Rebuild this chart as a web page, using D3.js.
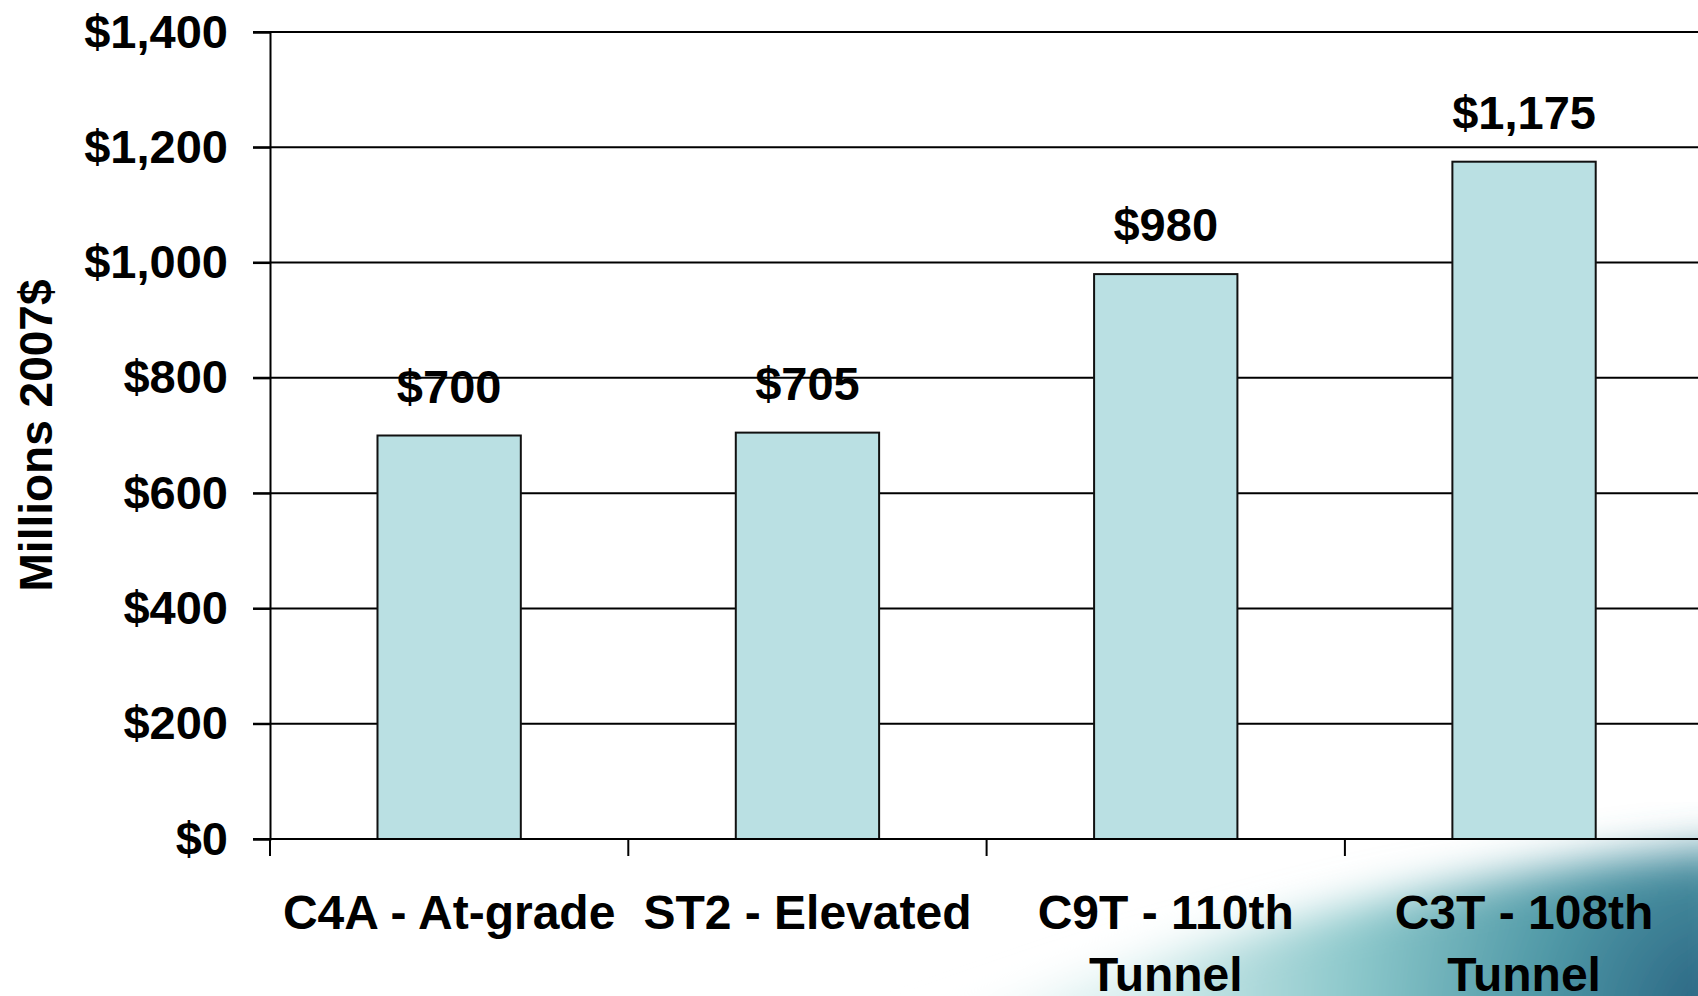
<!DOCTYPE html>
<html>
<head>
<meta charset="utf-8">
<script src="https://cdn.jsdelivr.net/npm/d3@7"></script>
<style>
  body { margin: 0; background: #fff; }
  svg text { font-family: "Liberation Sans", Arial, sans-serif; font-weight: bold; fill: #000; }
</style>
</head>
<body>
<div id="chart"></div>
<script>
// chart data
const categories = ["C4A - At-grade", "ST2 - Elevated", "C9T - 110th Tunnel", "C3T - 108th Tunnel"];
const costs = [700, 705, 980, 1175];
const valueLabels = ["$700", "$705", "$980", "$1,175"];
const yTicks = [0, 200, 400, 600, 800, 1000, 1200, 1400];
const yTickLabels = ["$0", "$200", "$400", "$600", "$800", "$1,000", "$1,200", "$1,400"];
const yTitle = "Millions 2007$";

const data = categories.map((c, i) => ({name: c, value: costs[i], label: valueLabels[i]}));

const W = 1698, H = 996;
const margin = {top: 32, left: 270, bottom: 157};
const step = 358.3;

const svg = d3.select('#chart').append('svg')
    .attr('width', W)
    .attr('height', H);

// decorative teal swoosh in bottom-right corner
const defs = svg.append('defs');
const grad = defs.append('radialGradient')
    .attr('id', 'swoosh')
    .attr('gradientUnits', 'userSpaceOnUse')
    .attr('cx', 1720).attr('cy', 1010)
    .attr('r', 820);
grad.append('stop').attr('offset', 0).attr('stop-color', '#26607f');
grad.append('stop').attr('offset', 0.22).attr('stop-color', '#4f98a6');
grad.append('stop').attr('offset', 0.45).attr('stop-color', '#8cc8cb');
grad.append('stop').attr('offset', 0.7).attr('stop-color', '#d3ecec');
grad.append('stop').attr('offset', 1).attr('stop-color', '#ffffff');
defs.append('filter').attr('id', 'soft')
    .attr('x', '-20%').attr('y', '-20%').attr('width', '140%').attr('height', '140%')
  .append('feGaussianBlur').attr('stdDeviation', 22);

svg.append('path')
    .attr('d', 'M860,1060 C1080,980 1350,880 1740,845 L1740,1060 Z')
    .attr('fill', 'url(#swoosh)')
    .attr('filter', 'url(#soft)');

// scales
const yScale = d3.scaleLinear()
    .domain([0, 1400])
    .range([H - margin.bottom, margin.top]);

const xScale = d3.scaleBand()
    .domain(categories)
    .range([margin.left, margin.left + step * categories.length])
    .padding(0);

const barW = xScale.bandwidth() * 0.4;

// gridlines
svg.append('g')
    .selectAll('line')
    .data(yTicks.slice(1))
    .join('line')
    .attr('x1', margin.left - 17)
    .attr('x2', W)
    .attr('y1', d => yScale(d))
    .attr('y2', d => yScale(d))
    .attr('stroke', '#000')
    .attr('stroke-width', 2);

// bars
svg.append('g')
    .selectAll('rect')
    .data(data)
    .join('rect')
    .attr('x', d => xScale(d.name) + (xScale.bandwidth() - barW) / 2)
    .attr('y', d => yScale(d.value))
    .attr('width', barW)
    .attr('height', d => yScale(0) - yScale(d.value))
    .attr('fill', '#bae0e3')
    .attr('stroke', '#111')
    .attr('stroke-width', 2);

// value labels
svg.append('g')
    .selectAll('text')
    .data(data)
    .join('text')
    .attr('x', d => xScale(d.name) + xScale.bandwidth() / 2)
    .attr('y', d => yScale(d.value) - 33)
    .attr('text-anchor', 'middle')
    .attr('font-size', 47)
    .text(d => d.label);

// y axis
const yAxis = d3.axisLeft(yScale)
    .tickValues(yTicks)
    .tickFormat((d, i) => yTickLabels[i])
    .tickSize(17)
    .tickPadding(25);

const yAxisGroup = svg.append('g')
    .attr('transform', `translate(${margin.left},0)`)
    .call(yAxis);
yAxisGroup.select('.domain').attr('stroke', '#000').attr('stroke-width', 2);
yAxisGroup.selectAll('.tick line').attr('stroke', '#000').attr('stroke-width', 2);
yAxisGroup.selectAll('.tick text')
    .attr('font-size', 47)
    .attr('font-family', '"Liberation Sans", Arial, sans-serif')
    .attr('font-weight', 'bold')
    .attr('fill', '#000');

// x axis
const xAxisGroup = svg.append('g')
    .attr('transform', `translate(0,${yScale(0)})`);
xAxisGroup.append('line')
    .attr('x1', margin.left - 17).attr('x2', W)
    .attr('stroke', '#000').attr('stroke-width', 2);
xAxisGroup.selectAll('.xtick')
    .data(categories)
    .join('line')
    .attr('class', 'xtick')
    .attr('x1', d => xScale(d)).attr('x2', d => xScale(d))
    .attr('y1', 0).attr('y2', 17)
    .attr('stroke', '#000').attr('stroke-width', 2);

const catText = xAxisGroup.selectAll('.xlabel')
    .data(categories)
    .join('text')
    .attr('class', 'xlabel')
    .attr('x', d => xScale(d) + xScale.bandwidth() / 2)
    .attr('y', 90)
    .attr('text-anchor', 'middle')
    .attr('font-size', 48)
    .text(d => d);

// wrap category labels into the band width
catText.each(function() {
    const text = d3.select(this);
    const words = text.text().split(/\s+/);
    const x = text.attr('x');
    text.text(null);
    let line = [];
    let tspan = text.append('tspan').attr('x', x).attr('dy', 0);
    words.forEach(w => {
        line.push(w);
        tspan.text(line.join(' '));
        if (tspan.node().getComputedTextLength() > xScale.bandwidth() - 4 && line.length > 1) {
            line.pop();
            tspan.text(line.join(' '));
            line = [w];
            tspan = text.append('tspan').attr('x', x).attr('dy', 62).text(w);
        }
    });
});

// y title
svg.append('text')
    .attr('transform', `translate(52,${(yScale(0) + yScale(1400)) / 2}) rotate(-90)`)
    .attr('text-anchor', 'middle')
    .attr('font-size', 46)
    .text(yTitle);
</script>
</body>
</html>
